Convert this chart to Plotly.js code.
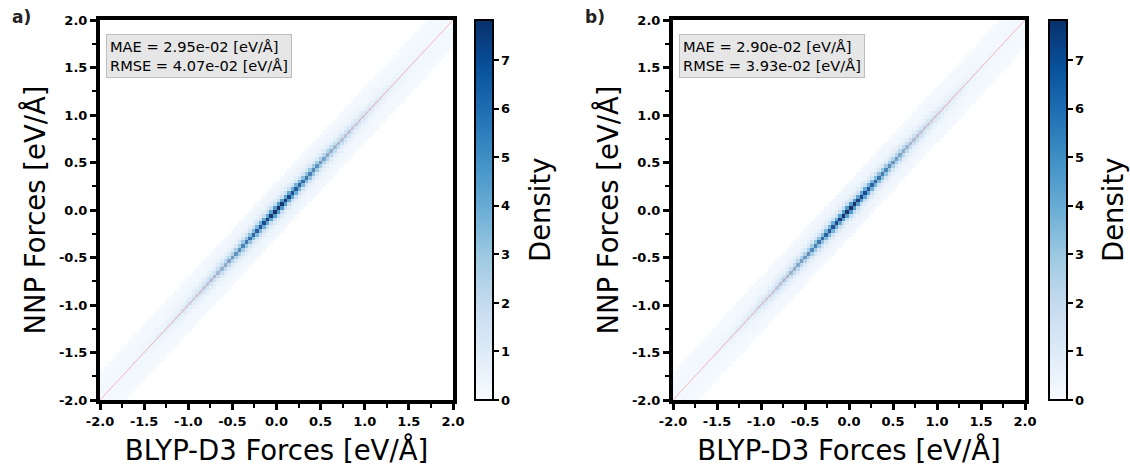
<!DOCTYPE html>
<html>
<head>
<meta charset="utf-8">
<script src="https://cdn.plot.ly/plotly-3.0.1.min.js"></script>
<style>html,body{margin:0;padding:0;background:#fff;}#chart{width:1130px;height:466px;}</style>
</head>
<body>
<div id="chart"></div>
<script>
// ---- data ----
const panelLabels = ['a)', 'b)'];
const statsA = ['MAE = 2.95e-02 [eV/Å]', 'RMSE = 4.07e-02 [eV/Å]'];
const statsB = ['MAE = 2.90e-02 [eV/Å]', 'RMSE = 3.93e-02 [eV/Å]'];
const axisTickVals = [-2, -1.5, -1, -0.5, 0, 0.5, 1, 1.5, 2];
const axisTickText = ['-2.0', '-1.5', '-1.0', '-0.5', '0.0', '0.5', '1.0', '1.5', '2.0'];
const minorTickVals = [-1.75, -1.25, -0.75, -0.25, 0.25, 0.75, 1.25, 1.75];
const cbTickVals = [0, 1, 2, 3, 4, 5, 6, 7];
const densityMax = 7.83;
const identityLine = [-2, 2];
const binEdgesRange = [-2, 2];
const binCount = 100;

// density on the diagonal bins (x = y), one value per 0.04 bin, panel a
const coreA = [
  0.12,0.13,0.15,0.16,0.18,0.20,0.22,0.25,0.27,0.30,
  0.33,0.37,0.41,0.45,0.50,0.55,0.61,0.67,0.74,0.82,
  0.90,1.00,1.10,1.20,1.32,1.45,1.60,1.75,1.92,2.10,
  2.30,2.50,2.75,3.00,3.25,3.50,3.80,4.10,4.40,4.70,
  5.00,5.30,5.60,5.90,6.20,6.50,6.85,7.15,7.45,7.70,
  7.80,7.55,7.25,6.95,6.60,6.30,6.00,5.70,5.40,5.10,
  4.80,4.50,4.20,3.90,3.60,3.30,3.05,2.80,2.55,2.35,
  2.15,1.95,1.78,1.62,1.47,1.33,1.20,1.08,0.97,0.87,
  0.78,0.70,0.63,0.56,0.50,0.45,0.40,0.36,0.32,0.29,
  0.26,0.23,0.21,0.19,0.17,0.15,0.14,0.13,0.12,0.11
];
// panel b
const coreB = [
  0.11,0.12,0.14,0.15,0.17,0.19,0.21,0.24,0.26,0.29,
  0.32,0.36,0.40,0.44,0.49,0.54,0.60,0.66,0.73,0.81,
  0.90,1.00,1.10,1.22,1.35,1.48,1.63,1.80,1.98,2.16,
  2.36,2.58,2.82,3.08,3.35,3.62,3.90,4.20,4.50,4.80,
  5.10,5.40,5.70,6.00,6.30,6.60,6.90,7.20,7.50,7.75,
  7.80,7.60,7.30,7.00,6.70,6.40,6.10,5.80,5.50,5.20,
  4.90,4.60,4.30,4.00,3.70,3.42,3.15,2.90,2.65,2.42,
  2.20,2.00,1.82,1.65,1.50,1.36,1.23,1.10,0.99,0.89,
  0.80,0.72,0.64,0.57,0.51,0.46,0.41,0.37,0.33,0.30,
  0.27,0.24,0.22,0.20,0.18,0.16,0.14,0.13,0.12,0.11
];
// faint halo density, one value per 0.2 segment along the diagonal
const haloA = [0.16,0.18,0.20,0.22,0.25,0.28,0.32,0.36,0.42,0.48,0.48,0.42,0.36,0.32,0.28,0.25,0.22,0.20,0.18,0.16];
const haloB = [0.15,0.17,0.19,0.21,0.24,0.27,0.31,0.36,0.42,0.48,0.48,0.42,0.36,0.31,0.27,0.24,0.21,0.19,0.17,0.15];
// relative density across the diagonal, by bin offset |i - j|
const coreAcross = [1.0, 0.56, 0.18, 0.06];
const haloAcross = [0.0, 0.5, 1.0, 1.0, 0.95, 0.85, 0.65, 0.4];

// ---- build grids ----
const binW = (binEdgesRange[1] - binEdgesRange[0]) / binCount;
const centers = Array.from({length: binCount}, (_, i) => binEdgesRange[0] + (i + 0.5) * binW);
function buildGrid(core, halo) {
  const seg = binCount / halo.length;
  const z = [];
  for (let j = 0; j < binCount; j++) {
    const row = [];
    for (let i = 0; i < binCount; i++) {
      const ad = Math.abs(j - i);
      const k = Math.floor((i + j) / 2);
      let v = 0;
      if (ad < coreAcross.length) v += core[k] * coreAcross[ad];
      if (ad < haloAcross.length) v += halo[Math.floor(k / seg)] * haloAcross[ad];
      row.push(v > 0 ? v : null);
    }
    z.push(row);
  }
  return z;
}

const blues = [[0,'#f7fbff'],[0.125,'#deebf7'],[0.25,'#c6dbef'],[0.375,'#9ecae1'],[0.5,'#6baed6'],[0.625,'#4292c6'],[0.75,'#2171b5'],[0.875,'#08519c'],[1,'#08306b']];
const FONT = 'DejaVu Sans, Liberation Sans, sans-serif';
const W = 1130, H = 466;
const plotTop = 20, plotBottom = 400;
const yDom = [1 - plotBottom / H, 1 - plotTop / H];
const xDomA = [100 / W, 453 / W];
const xDomB = [673 / W, 1025 / W];
const cbXA = 475 / W, cbXB = 1049 / W;

function colorbar(x) {
  return {
    x: x, xanchor: 'left', xpad: 0, ypad: 0,
    y: yDom[1], yanchor: 'top', len: (plotBottom - plotTop) / H, lenmode: 'fraction',
    thickness: 18, outlinewidth: 2, outlinecolor: '#000',
    tickmode: 'array', tickvals: cbTickVals, ticktext: cbTickVals.map(String),
    ticks: 'outside', ticklen: 5, tickwidth: 2, tickcolor: '#000',
    tickfont: {family: FONT, size: 13, weight: 'bold', color: '#000'}
  };
}

const traces = [
  {type: 'heatmap', x: centers, y: centers, z: buildGrid(coreA, haloA), xaxis: 'x', yaxis: 'y',
   colorscale: blues, zmin: 0, zmax: densityMax, zsmooth: false, colorbar: colorbar(cbXA), hoverinfo: 'skip'},
  {type: 'scatter', mode: 'lines', x: identityLine, y: identityLine, xaxis: 'x', yaxis: 'y',
   line: {color: 'rgba(255,0,0,0.35)', width: 0.8}, showlegend: false, hoverinfo: 'skip'},
  {type: 'heatmap', x: centers, y: centers, z: buildGrid(coreB, haloB), xaxis: 'x2', yaxis: 'y2',
   colorscale: blues, zmin: 0, zmax: densityMax, zsmooth: false, colorbar: colorbar(cbXB), hoverinfo: 'skip'},
  {type: 'scatter', mode: 'lines', x: identityLine, y: identityLine, xaxis: 'x2', yaxis: 'y2',
   line: {color: 'rgba(255,0,0,0.35)', width: 0.8}, showlegend: false, hoverinfo: 'skip'}
];

function axis(domain, anchor, titleText, standoff) {
  return {
    domain: domain, anchor: anchor, range: [-2, 2], fixedrange: true,
    tickmode: 'array', tickvals: axisTickVals, ticktext: axisTickText,
    ticks: 'outside', ticklen: 6, tickwidth: 3, tickcolor: '#000',
    minor: {tickmode: 'array', tickvals: minorTickVals, ticks: 'outside', ticklen: 4, tickwidth: 2, tickcolor: '#000', showgrid: false},
    showline: true, linewidth: 4, linecolor: '#000', mirror: true,
    showgrid: false, zeroline: false,
    tickfont: {family: FONT, size: 13, weight: 'bold', color: '#000'},
    title: {text: titleText, standoff: standoff, font: {family: FONT, size: 27.5, color: '#000'}}
  };
}

const xTitle = 'BLYP-D3 Forces [eV/Å]';
const yTitle = 'NNP Forces [eV/Å]';

function statsAnn(xPix, lines) {
  return {xref: 'paper', yref: 'paper', x: xPix / W, y: 1 - 34 / H, xanchor: 'left', yanchor: 'top',
    text: lines.join('<br>'), align: 'left', showarrow: false,
    font: {family: FONT, size: 14.6, color: '#000'},
    bgcolor: '#e6e6e6', bordercolor: '#bdbdbd', borderwidth: 1, borderpad: 3};
}
function cbTitle(xPix) {
  return {xref: 'paper', yref: 'paper', x: xPix / W, y: 1 - 210 / H, xanchor: 'center', yanchor: 'middle',
    text: 'Density', textangle: -90, showarrow: false, font: {family: FONT, size: 27.5, color: '#000'}};
}

const layout = {
  width: W, height: H, margin: {l: 0, r: 0, t: 0, b: 0},
  paper_bgcolor: '#fff', plot_bgcolor: '#fff', showlegend: false,
  xaxis: axis(xDomA, 'y', xTitle, 14),
  yaxis: axis(yDom, 'x', yTitle, 6),
  xaxis2: axis(xDomB, 'y2', xTitle, 14),
  yaxis2: axis(yDom, 'x2', yTitle, 6),
  annotations: [
    {xref: 'paper', yref: 'paper', x: 10 / W, y: 1 - 17 / H, xanchor: 'left', yanchor: 'middle', showarrow: false,
     text: '<b>' + panelLabels[0] + '</b>', font: {family: FONT, size: 17, color: '#222'}},
    {xref: 'paper', yref: 'paper', x: 583 / W, y: 1 - 17 / H, xanchor: 'left', yanchor: 'middle', showarrow: false,
     text: '<b>' + panelLabels[1] + '</b>', font: {family: FONT, size: 17, color: '#222'}},
    statsAnn(106, statsA),
    statsAnn(679, statsB),
    cbTitle(540),
    cbTitle(1113)
  ]
};

Plotly.newPlot('chart', traces, layout, {staticPlot: true, displayModeBar: false});
</script>
</body>
</html>
